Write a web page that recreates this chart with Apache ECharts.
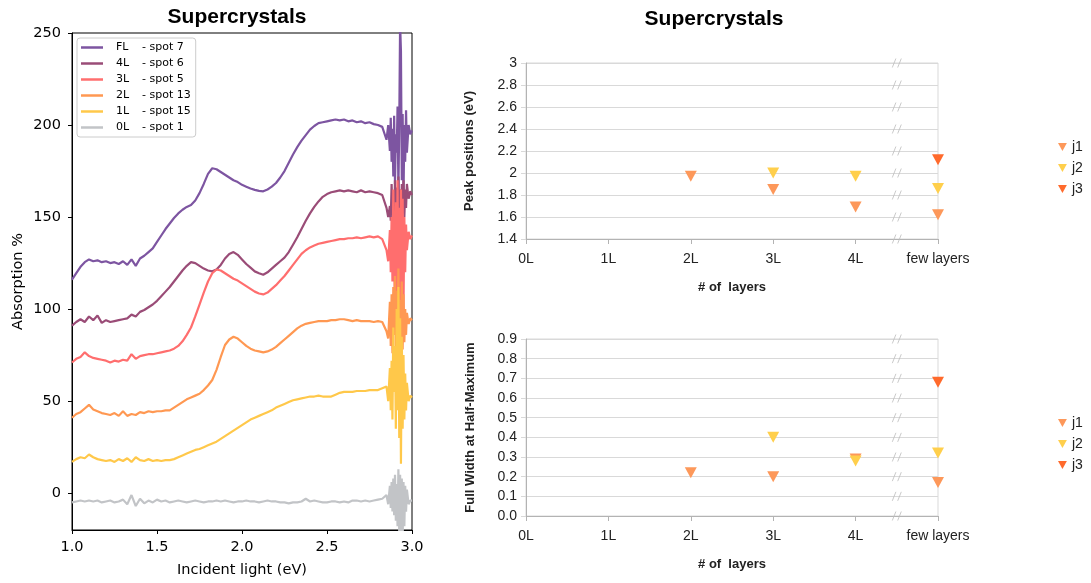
<!DOCTYPE html>
<html>
<head>
<meta charset="utf-8">
<script src="https://cdn.jsdelivr.net/npm/echarts@6/dist/echarts.min.js"></script>
<style>
    html, body {margin: 0; padding: 0; background: #fff;}
    #main {width: 1091px; height: 583px;}
</style>
</head>
<body>
<div id="main"></div>
<script>
// absorption spectra
var energies = [1.000,1.025,1.050,1.075,1.100,1.125,1.150,1.175,1.200,1.225,1.250,1.275,1.300,1.325,1.350,1.375,1.400,1.425,1.450,1.475,
    1.500,1.525,1.550,1.575,1.600,1.625,1.650,1.675,1.700,1.725,1.750,1.775,1.800,1.825,1.850,1.875,1.900,1.925,1.950,1.975,
    2.000,2.025,2.050,2.075,2.100,2.125,2.150,2.175,2.200,2.225,2.250,2.275,2.300,2.325,2.350,2.375,2.400,2.425,2.450,2.475,
    2.500,2.525,2.550,2.575,2.600,2.625,2.650,2.675,2.700,2.725,2.750,2.775,2.800,2.825,2.850,
    2.860,2.870,2.875,2.880,2.885,2.890,2.895,2.900,2.905,2.910,2.915,2.920,2.925,2.930,2.935,2.940,2.945,2.950,2.955,2.960,
    2.965,2.970,2.980,2.990,3.000];

var absFL = [116,119.5,123,125.5,127,126,126.5,125.5,126,125,125.5,124.5,126,124,127,123.5,127.5,129,131,133,
    136.5,140,143.5,146.5,149.5,152,154,155.5,156.5,159,163,168,173.5,176.5,176,174.5,173,171.5,170,169,
    167.5,166.5,165.5,164.8,164.2,164,165,166.5,168.5,171.5,175,179.5,184,188,191.5,194.5,197.5,199.5,201,201.5,
    202,202.5,203,202.5,203,202,202.5,201.5,202,201,201.5,200.5,200,199,192,
    200,186,204,180,198,172,205,168,195,185,210,165,200,255,240,170,206,160,200,180,
    208,185,200,195,197];
var abs4L = [91,93,94.5,93,96,94,96.5,92.5,94,93,93.5,94,94.5,95,97,96,98.5,99.5,101,102.5,
    104.5,107,109.5,112,115,118,121,123.5,125.5,125,123.5,122,121,120.5,121.5,124,127.5,130,131,129.5,
    127,124.5,122.5,120.5,119.5,118.7,120,122,124,126,128,131,135,139,143.5,148,152,155.5,158.5,161,
    162.5,163.5,164,164.5,164,164.5,164,163.5,164.5,163.5,164,163.5,163,162,155,
    150,156,148,168,152,160,145,170,155,166,140,172,150,165,145,168,152,170,150,165,
    155,168,160,164,162];
var abs3L = [71,73,74,76.5,74.5,73.5,73,72.5,72,71,72,71.5,72.5,72,75.5,73,74.5,75,75.5,75.5,
    76,76.5,77,77.5,78.5,80,82.5,86,90,96,102.5,109,115,119.5,121.5,121,119.5,118,116.5,115.5,
    114,112.5,111,109.5,108.5,108,109,111,113,115.5,118,121,124,127,130,132,133.5,134.5,135.5,136,
    136.5,137,137.5,138,138,138.5,138.5,139,138.5,139,139.5,139,139.5,138,132,
    126,143,120,150,115,165,128,100,158,95,170,112,155,90,165,110,160,100,150,120,
    146,132,142,138,140];
var abs2L = [41,43,44,46,48,45.5,44.5,43.5,43,42.5,43.5,42,44.5,42,43,42.5,44,43.5,44.5,44,
    44.5,44.5,45,45,46.5,48,49.5,51,52,53,54,56,58.5,61.5,67,74,80.5,83.5,85,84,
    82,80,78.5,77.5,77,76.5,77,78,79.5,81.5,83.5,85.5,87.5,89.5,91,92,92.5,93,93.5,93.5,
    93.5,94,94,94.5,94.5,94,93.5,94,93.5,93.5,93.5,93,93.5,93,88,
    84,104,80,108,76,112,86,118,78,110,88,122,74,105,80,115,78,108,82,100,
    86,98,92,95,94];
var abs1L = [17,18.5,19.5,19,21,19.5,18.5,18,17.5,18,17,18.5,17.5,19,17,19.5,18,17.5,18.5,17.5,
    18,17.5,18,18,18.5,19.5,20.5,21.5,22.5,23.5,24,25,26,27,28,29.5,31,32.5,34,35.5,
    37,38.5,40,41,42,43,44,45,46.5,47.5,48.5,49.5,50.5,51,51.5,52,52.5,52.5,53,52.5,
    52.5,52.5,53.5,54.5,55,55,55,55.5,55.5,55.5,56,56,56,57,58,
    50,68,45,72,40,90,55,80,35,100,45,112,30,95,16,85,35,75,40,65,
    45,60,50,53,52];
var abs0L = [-5,-4.5,-4,-4.5,-4,-4.5,-4,-5,-4.5,-4,-5,-4.5,-3.5,-6,-1,-7,-3,-5.5,-4,-5,
    -3.5,-4.5,-4,-5,-4.5,-4,-4.5,-5,-4.5,-4,-4.5,-5,-4.5,-4.5,-4,-4.5,-4,-4.5,-5,-4.5,
    -4.5,-4,-4.5,-4.5,-5,-4.5,-4,-4.5,-4.5,-5,-5,-5.5,-5,-5,-4.5,-3,-4.5,-4,-4.5,-5,
    -5,-4.5,-4.5,-5,-4.5,-5,-4,-4,-4.5,-4,-4.5,-4,-3.5,-3,-1,
    -6,4,-8,6,-10,8,-12,10,-15,5,-18,13,-22,10,-25,8,-25,6,-18,4,
    -10,2,-6,-4,-4];

var sampleNames = ['FL', '4L', '3L', '2L', '1L', '0L'];
var sampleSpots = ['spot 7', 'spot 6', 'spot 5', 'spot 13', 'spot 15', 'spot 1'];
var sampleColors = ['#7d55a1', '#9a4c77', '#ff6e6e', '#ff9852', '#ffc84a', '#c2c4c7'];
var sampleData = [absFL, abs4L, abs3L, abs2L, abs1L, abs0L];
var absTicks = [0, 50, 100, 150, 200, 250];

// peak fits
var layers = ['0L', '1L', '2L', '3L', '4L', 'few layers'];
var peakJ1 = [null, null, 1.97, 1.85, 1.69, 1.62];
var peakJ2 = [null, null, null, 2.00, 1.97, 1.86];
var peakJ3 = [null, null, null, null, null, 2.12];
var fwhmJ1 = [null, null, 0.22, 0.20, 0.29, 0.17];
var fwhmJ2 = [null, null, null, 0.40, 0.28, 0.32];
var fwhmJ3 = [null, null, null, null, null, 0.68];
var peakTicks = [1.4, 1.6, 1.8, 2.0, 2.2, 2.4, 2.6, 2.8, 3.0];
var fwhmTicks = [0, 0.1, 0.2, 0.3, 0.4, 0.5, 0.6, 0.7, 0.8, 0.9];
var jNames = ['j1', 'j2', 'j3'];
var jColors = ['#fd985a', '#ffcf4c', '#ff6a2c'];
var breakAt = 4.5;

var fam = 'DejaVu Sans';
var fam2 = 'Liberation Sans';
var downTri = 'path://M0,0L10,0L5,9Z';

function pairs(xs, ys) {
    var out = [];
    for (var i = 0; i < xs.length; i++) {
        if (ys[i] != null) out.push([xs[i], ys[i]]);
    }
    return out;
}
function layerIdx() {
    return layers.map(function (l, i) { return i; });
}

function rightXAxis(idx) {
    return {
        type: 'value', gridIndex: idx, min: 0, max: 5, interval: 1,
        name: '# of  layers', nameLocation: 'middle', nameGap: 42,
        nameTextStyle: {fontFamily: fam2, fontWeight: 'bold', fontSize: 13, color: '#222'},
        axisLine: {onZero: false, lineStyle: {color: '#b3b3b3'}},
        axisTick: {length: 5, lineStyle: {color: '#b3b3b3'}},
        axisLabel: {
            fontFamily: fam2, fontSize: 14, color: '#222', margin: 13,
            formatter: function (v) { return layers[v]; }
        },
        splitLine: {show: false}
    };
}
function rightYAxis(idx, min, max, name, gap, digits) {
    return {
        type: 'value', gridIndex: idx, min: min, max: max, interval: idx == 1 ? 0.2 : 0.1,
        name: name, nameLocation: 'middle', nameGap: gap,
        nameTextStyle: {fontFamily: fam2, fontWeight: 'bold', fontSize: 13, color: '#222'},
        axisLine: {show: true, onZero: false, lineStyle: {color: '#b3b3b3'}},
        axisTick: {show: true, length: 5, lineStyle: {color: '#d9d9d9'}},
        axisLabel: {
            fontFamily: fam2, fontSize: 14, color: '#222', margin: 9,
            formatter: function (v) { return digits ? v.toFixed(digits) : String(+v.toFixed(1)); }
        },
        splitLine: {lineStyle: {color: '#d9d9d9'}}
    };
}

var series = [];
sampleNames.forEach(function (n, i) {
    series.push({
        name: n, type: 'line', xAxisIndex: 0, yAxisIndex: 0,
        data: pairs(energies, sampleData[i]),
        showSymbol: false, symbol: 'none',
        lineStyle: {color: sampleColors[i], width: 2.2},
        itemStyle: {color: sampleColors[i]}
    });
});
var peakSets = [peakJ1, peakJ2, peakJ3];
var fwhmSets = [fwhmJ1, fwhmJ2, fwhmJ3];
jNames.forEach(function (n, i) {
    series.push({
        name: n, type: 'scatter', xAxisIndex: 1, yAxisIndex: 1,
        symbol: downTri, symbolSize: [12, 11],
        itemStyle: {color: jColors[i], opacity: 1},
        data: pairs(layerIdx(), peakSets[i])
    });
});
jNames.forEach(function (n, i) {
    series.push({
        name: n, type: 'scatter', xAxisIndex: 2, yAxisIndex: 2,
        symbol: downTri, symbolSize: [12, 11],
        itemStyle: {color: jColors[i], opacity: 1},
        data: pairs(layerIdx(), fwhmSets[i])
    });
});
// the "//" axis-break marks
[[1, peakTicks], [2, fwhmTicks]].forEach(function (b) {
    series.push({
        type: 'scatter', xAxisIndex: b[0], yAxisIndex: b[0], silent: true, z: 1,
        symbol: 'path://M0,10L4,0M6,10L10,0', symbolSize: [9, 9],
        itemStyle: {color: 'none', borderColor: '#bdbdbd', borderWidth: 1},
        data: b[1].map(function (v) { return [breakAt, v]; })
    });
});

var option = {
    backgroundColor: '#fff',
    animation: false,
    title: [
        {text: 'Supercrystals', left: 237, top: 7, textAlign: 'center', padding: 0,
            textStyle: {fontFamily: fam2, fontWeight: 'bold', fontSize: 21, color: '#000'}},
        {text: 'Supercrystals', left: 714, top: 9, textAlign: 'center', padding: 0,
            textStyle: {fontFamily: fam2, fontWeight: 'bold', fontSize: 21, color: '#000'}}
    ],
    legend: [
        {
            data: sampleNames, orient: 'vertical', left: 77, top: 38,
            padding: [3, 5, 3, 4], itemGap: 3, itemWidth: 22, itemHeight: 2.5,
            icon: 'rect', borderColor: '#cccccc', borderWidth: 1, borderRadius: 3,
            backgroundColor: 'rgba(255,255,255,0.8)',
            formatter: function (name) {
                return '{a|' + name + '}{b|- ' + sampleSpots[sampleNames.indexOf(name)] + '}';
            },
            textStyle: {
                fontFamily: fam, fontSize: 11, color: '#000', lineHeight: 13,
                rich: {
                    a: {width: 26, padding: [0, 0, 0, 8], fontFamily: fam, fontSize: 11},
                    b: {fontFamily: fam, fontSize: 11}
                }
            }
        },
        {
            data: jNames, orient: 'vertical', left: 1058, top: 139, itemGap: 5, padding: 0,
            itemWidth: 9, itemHeight: 8, icon: downTri,
            textStyle: {fontFamily: fam2, fontSize: 14, color: '#222', lineHeight: 16}
        },
        {
            data: jNames, orient: 'vertical', left: 1058, top: 415, itemGap: 5, padding: 0,
            itemWidth: 9, itemHeight: 8, icon: downTri,
            textStyle: {fontFamily: fam2, fontSize: 14, color: '#222', lineHeight: 16}
        }
    ],
    grid: [
        {left: 72, right: 679, top: 33, bottom: 51, show: true, borderColor: '#000', borderWidth: 1},
        {left: 526, right: 153, top: 63, bottom: 344, show: true, borderColor: '#d9d9d9', borderWidth: 1},
        {left: 526, right: 153, top: 339, bottom: 67, show: true, borderColor: '#d9d9d9', borderWidth: 1}
    ],
    xAxis: [
        {
            type: 'value', gridIndex: 0, min: 1, max: 3, interval: 0.5,
            name: 'Incident light (eV)', nameLocation: 'middle', nameGap: 33,
            nameTextStyle: {fontFamily: fam, fontSize: 14.5, color: '#000'},
            axisLine: {onZero: false, lineStyle: {color: '#000'}},
            axisTick: {length: 4, lineStyle: {color: '#000'}},
            axisLabel: {fontFamily: fam, fontSize: 14.5, color: '#000', margin: 10,
                formatter: function (v) { return v.toFixed(1); }},
            splitLine: {show: false}
        },
        rightXAxis(1),
        rightXAxis(2)
    ],
    yAxis: [
        {
            type: 'value', gridIndex: 0, min: -20, max: 250,
            name: 'Absorption %', nameLocation: 'middle', nameGap: 46,
            nameTextStyle: {fontFamily: fam, fontSize: 14.5, color: '#000'},
            axisLine: {show: true, onZero: false, lineStyle: {color: '#000'}},
            axisTick: {show: true, length: 4, lineStyle: {color: '#000'}, customValues: absTicks},
            axisLabel: {fontFamily: fam, fontSize: 14.5, color: '#000', margin: 11, customValues: absTicks},
            splitLine: {show: false}
        },
        rightYAxis(1, 1.4, 3, 'Peak positions (eV)', 50, 0),
        rightYAxis(2, 0, 0.9, 'Full Width at Half-Maximum', 49, 1)
    ],
    series: series
};

var myChart = echarts.init(document.getElementById('main'));
myChart.setOption(option);
</script>
</body>
</html>
